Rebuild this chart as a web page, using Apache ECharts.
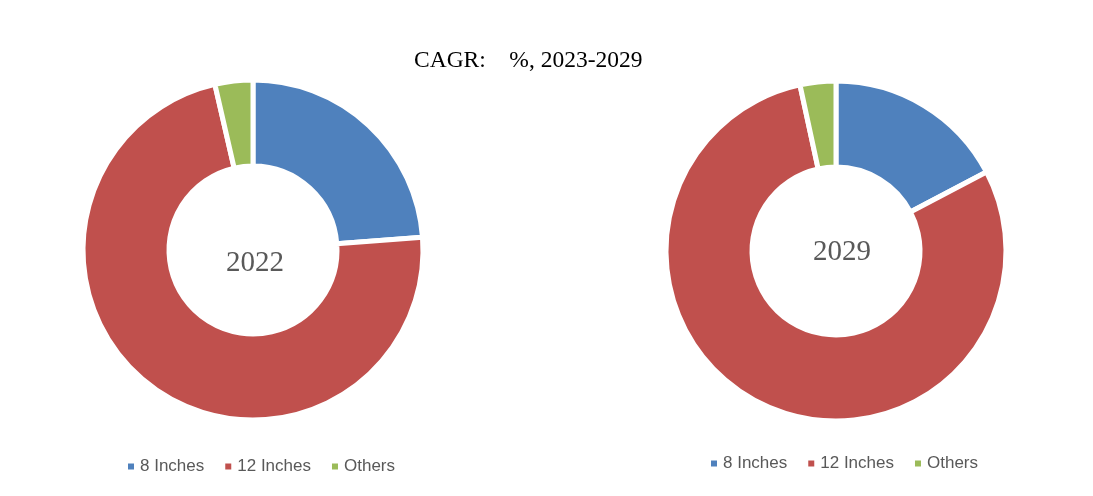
<!DOCTYPE html>
<html>
<head>
<meta charset="utf-8">
<script src="https://cdn.jsdelivr.net/npm/echarts@6/dist/echarts.min.js"></script>
<style>html,body{margin:0;padding:0;background:#fff}#c{width:1093px;height:496px}</style>
</head>
<body>
<div id="c"></div>
<script>
const categories = ['8 Inches', '12 Inches', 'Others'];
const values2022 = [23.8, 72.6, 3.6];
const values2029 = [17.3, 79.3, 3.4];
const years = ['2022', '2029'];
const titleText = 'CAGR:    %, 2023-2029';
const colors = ['#4F81BD', '#C0504D', '#9BBB59'];

const chart = echarts.init(document.getElementById('c'));
function pieSeries(vals, center) {
  return {
    type: 'pie',
    center: center,
    radius: [84, 170],
    startAngle: 90,
    clockwise: true,
    label: { show: false },
    labelLine: { show: false },
    emphasis: { disabled: true },
    itemStyle: { borderColor: '#fff', borderWidth: 5 },
    data: categories.map((c, i) => ({ name: c, value: vals[i] }))
  };
}
const legendCommon = {
  data: categories, icon: 'rect', itemWidth: 8, itemHeight: 8, itemGap: 19,
  textStyle: { fontFamily: 'Liberation Sans', fontSize: 17, color: '#595959' },
  selectedMode: false
};
const yearStyle = { fontFamily: 'Liberation Serif', fontSize: 29, fill: '#595959', textAlign: 'center', textVerticalAlign: 'middle' };
chart.setOption({
  animation: false,
  color: colors,
  title: {
    text: titleText, left: 409, top: 44,
    textStyle: { fontFamily: 'Liberation Serif', fontSize: 23.5, fontWeight: 'normal', color: '#000' }
  },
  legend: [
    Object.assign({ left: 121, top: 453 }, legendCommon),
    Object.assign({ left: 704, top: 450 }, legendCommon)
  ],
  graphic: [
    { type: 'text', x: 255, y: 263, style: Object.assign({ text: years[0] }, yearStyle) },
    { type: 'text', x: 842, y: 252, style: Object.assign({ text: years[1] }, yearStyle) }
  ],
  series: [
    pieSeries(values2022, [253, 250]),
    pieSeries(values2029, [836, 251])
  ]
});
</script>
</body>
</html>
